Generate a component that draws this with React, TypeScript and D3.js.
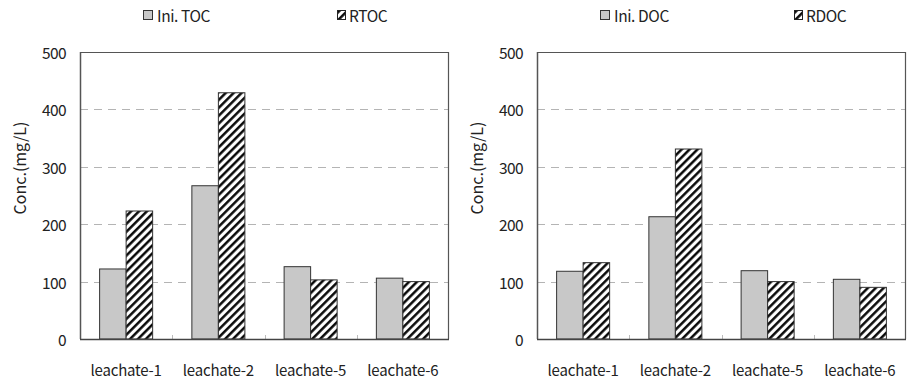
import React from "react";
import * as d3 from "d3";

const categories = ["leachate-1", "leachate-2", "leachate-5", "leachate-6"];
const iniTOC = [122, 267, 126, 106];
const rTOC = [223, 429, 103, 100];
const iniDOC = [118, 213, 119, 104];
const rDOC = [133, 331, 100, 90];
const yTicks = [0, 100, 200, 300, 400, 500];

const FONT = "'Noto Sans CJK KR', 'Noto Sans', sans-serif";

type PanelProps = {
  offsetX: number;
  labels: [string, string];
  a: number[];
  b: number[];
};

function Panel({ offsetX, labels, a, b }: PanelProps) {
  const left = 80;
  const right = 449;
  const top = 52;
  const bottom = 339;
  const W = right - left;

  const x0 = d3.scaleBand<string>().domain(categories).range([0, W]).padding(0);
  const x1 = d3
    .scaleBand<string>()
    .domain(["a", "b"])
    .range([0, x0.bandwidth()])
    .paddingInner(0)
    .paddingOuter(0.74);
  const y = d3.scaleLinear().domain([0, 500]).range([bottom, top]);

  return (
    <g transform={`translate(${offsetX},0)`}>
      {/* legend */}
      <rect x={143.5} y={10.5} width={9} height={9} fill="#c8c8c8" stroke="#333" strokeWidth={1} />
      <text x={157} y={15} dominantBaseline="central" fontSize={15.5} fontFamily={FONT} fill="#222" letterSpacing={-0.4}>
        {labels[0]}
      </text>
      <rect x={337.5} y={10.5} width={8} height={9} fill="url(#hatch)" stroke="#222" strokeWidth={1} />
      <text x={349} y={15} dominantBaseline="central" fontSize={15.5} fontFamily={FONT} fill="#222" letterSpacing={-0.4}>
        {labels[1]}
      </text>

      {/* grid */}
      {yTicks
        .filter((t) => t > 0 && t < 500)
        .map((t) => (
          <line
            key={t}
            x1={left}
            x2={right}
            y1={Math.round(y(t)) + 0.5}
            y2={Math.round(y(t)) + 0.5}
            stroke="#b4b4b4"
            strokeWidth={1}
            strokeDasharray="8,6"
          />
        ))}

      {/* bars */}
      {categories.map((c, i) => {
        const gx = left + (x0(c) ?? 0);
        return (
          <g key={c}>
            <rect
              x={gx + (x1("a") ?? 0)}
              y={y(a[i])}
              width={x1.bandwidth()}
              height={bottom - y(a[i])}
              fill="#c8c8c8"
              stroke="#333"
              strokeWidth={1}
            />
            <rect
              x={gx + (x1("b") ?? 0)}
              y={y(b[i])}
              width={x1.bandwidth()}
              height={bottom - y(b[i])}
              fill="url(#hatch)"
              stroke="#333"
              strokeWidth={1}
            />
          </g>
        );
      })}

      {/* category separators */}
      {categories.slice(1).map((c) => {
        const xx = Math.round(left + (x0(c) ?? 0)) + 0.5;
        return <line key={c} x1={xx} x2={xx} y1={bottom} y2={bottom - 4} stroke="#bbb" strokeWidth={1} />;
      })}

      {/* frame */}
      <line x1={left} x2={right} y1={top + 0.5} y2={top + 0.5} stroke="#555" strokeWidth={1.2} />
      <line x1={right - 0.5} x2={right - 0.5} y1={top} y2={bottom} stroke="#555" strokeWidth={1.2} />
      <line x1={left + 0.5} x2={left + 0.5} y1={top} y2={bottom} stroke="#555" strokeWidth={1.5} />
      <line x1={left} x2={right} y1={bottom + 0.5} y2={bottom + 0.5} stroke="#444" strokeWidth={1.5} />

      {/* y tick labels */}
      {yTicks.map((t) => (
        <text
          key={t}
          x={66}
          y={y(t)}
          textAnchor="end"
          dominantBaseline="central"
          fontSize={15.5}
          fontFamily={FONT}
          fill="#222"
          letterSpacing={-0.6}
        >
          {t}
        </text>
      ))}

      {/* y title */}
      <text
        transform={`translate(19,168) rotate(-90)`}
        textAnchor="middle"
        dominantBaseline="central"
        fontSize={16}
        fontFamily={FONT}
        fill="#222"
      >
        Conc.(mg/L)
      </text>

      {/* x labels */}
      {categories.map((c) => (
        <text
          key={c}
          x={left + (x0(c) ?? 0) + x0.bandwidth() / 2}
          y={369}
          textAnchor="middle"
          dominantBaseline="central"
          fontSize={15}
          fontFamily={FONT}
          fill="#222"
          letterSpacing={-0.2}
        >
          {c}
        </text>
      ))}
    </g>
  );
}

export default function App() {
  return (
    <svg
      width={907}
      height={380}
      style={{ position: "absolute", left: 0, top: 0, background: "#fff" }}
    >
      <defs>
        <pattern id="hatch" patternUnits="userSpaceOnUse" width={5.6} height={5.6} patternTransform="rotate(45)">
          <rect width={5.6} height={5.6} fill="#fff" />
          <line x1={1.3} x2={1.3} y1={0} y2={5.6} stroke="#000" strokeWidth={2.4} />
        </pattern>
      </defs>
      <rect width={907} height={380} fill="#fff" />
      <Panel offsetX={0} labels={["Ini. TOC", "RTOC"]} a={iniTOC} b={rTOC} />
      <Panel offsetX={457} labels={["Ini. DOC", "RDOC"]} a={iniDOC} b={rDOC} />
    </svg>
  );
}
